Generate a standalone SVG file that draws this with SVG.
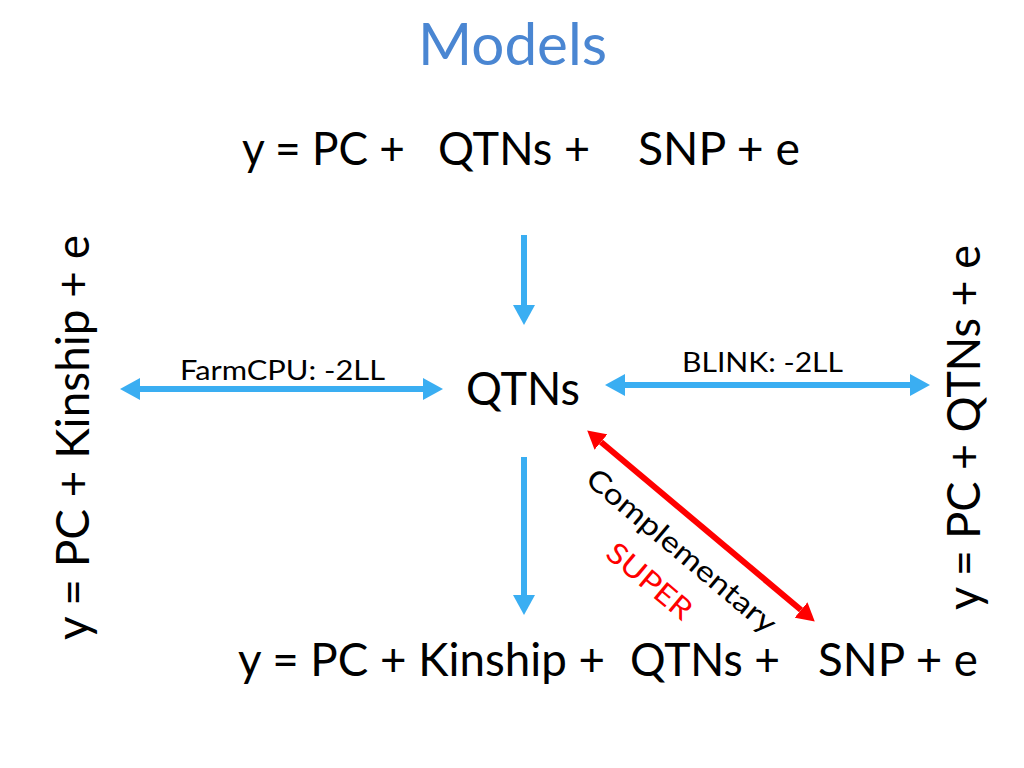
<svg xmlns="http://www.w3.org/2000/svg" width="1024" height="768" viewBox="0 0 1024 768">
<defs>
<style>
.t{font-family:Lato,"Open Sans","Liberation Sans",sans-serif;fill:#000}
.big{font-size:47px}
.mid{font-size:27px}
.blue{stroke:#3aaef2;stroke-width:6;fill:none}
.red{stroke:#ff0000;stroke-width:6;fill:none}
</style>
<marker id="hb" viewBox="0 0 20 22" refX="0" refY="11" markerWidth="20" markerHeight="22" markerUnits="userSpaceOnUse" orient="auto-start-reverse">
<path d="M0,0 L20,11 L0,22 z" fill="#3aaef2"/>
</marker>
<marker id="hr" viewBox="0 0 18 20" refX="0" refY="10" markerWidth="18" markerHeight="20" markerUnits="userSpaceOnUse" orient="auto-start-reverse">
<path d="M0,0 L18,10 L0,20 z" fill="#ff0000"/>
</marker>
</defs>
<rect width="1024" height="768" fill="#fff"/>
<g id="title">
<text x="418" y="65" font-family="Lato,'Open Sans',sans-serif" font-size="58" fill="#4a86d2" textLength="189" lengthAdjust="spacingAndGlyphs">Models</text>
</g>
<g id="top-formula">
<text class="t big" x="242" y="165" textLength="163" lengthAdjust="spacingAndGlyphs">y = PC +</text>
<text class="t big" x="438" y="165" textLength="152" lengthAdjust="spacingAndGlyphs">QTNs +</text>
<text class="t big" x="638" y="165" textLength="162" lengthAdjust="spacingAndGlyphs">SNP + e</text>
</g>
<g id="qtns">
<text class="t big" x="466" y="405" textLength="114" lengthAdjust="spacingAndGlyphs">QTNs</text>
</g>
<g id="left-formula">
<text class="t big" transform="translate(89,640) rotate(-90)" x="0" y="0" textLength="405" lengthAdjust="spacingAndGlyphs">y = PC + Kinship + e</text>
</g>
<g id="right-formula">
<text class="t big" transform="translate(980,610) rotate(-90)" x="0" y="0" textLength="365" lengthAdjust="spacingAndGlyphs">y = PC + QTNs + e</text>
</g>
<g id="bottom-formula">
<text class="t big" x="238" y="676" textLength="367" lengthAdjust="spacingAndGlyphs">y = PC + Kinship +</text>
<text class="t big" x="630" y="676" textLength="150" lengthAdjust="spacingAndGlyphs">QTNs +</text>
<text class="t big" x="818" y="676" textLength="160" lengthAdjust="spacingAndGlyphs">SNP + e</text>
</g>
<g id="connectors">
<line class="blue" x1="524" y1="235" x2="524" y2="305" marker-end="url(#hb)"/>
<line class="blue" x1="524" y1="457" x2="524" y2="595" marker-end="url(#hb)"/>
<line class="blue" x1="140" y1="389" x2="423" y2="389" marker-start="url(#hb)" marker-end="url(#hb)"/>
<line class="blue" x1="625" y1="385" x2="910" y2="385" marker-start="url(#hb)" marker-end="url(#hb)"/>
<line class="red" x1="601" y1="442" x2="801" y2="610" marker-start="url(#hr)" marker-end="url(#hr)"/>
</g>
<g id="labels">
<text class="t mid" x="180" y="380" textLength="205" lengthAdjust="spacingAndGlyphs">FarmCPU: -2LL</text>
<text class="t mid" x="682" y="372" textLength="161" lengthAdjust="spacingAndGlyphs">BLINK: -2LL</text>
<text class="t" font-size="29" transform="translate(584,482) rotate(40)" x="0" y="0" textLength="238" lengthAdjust="spacingAndGlyphs">Complementary</text>
<text transform="translate(604,556) rotate(40)" x="0" y="0" font-family="Lato,'Open Sans',sans-serif" font-size="29" fill="#ff0000" textLength="102" lengthAdjust="spacingAndGlyphs">SUPER</text>
</g>
</svg>
